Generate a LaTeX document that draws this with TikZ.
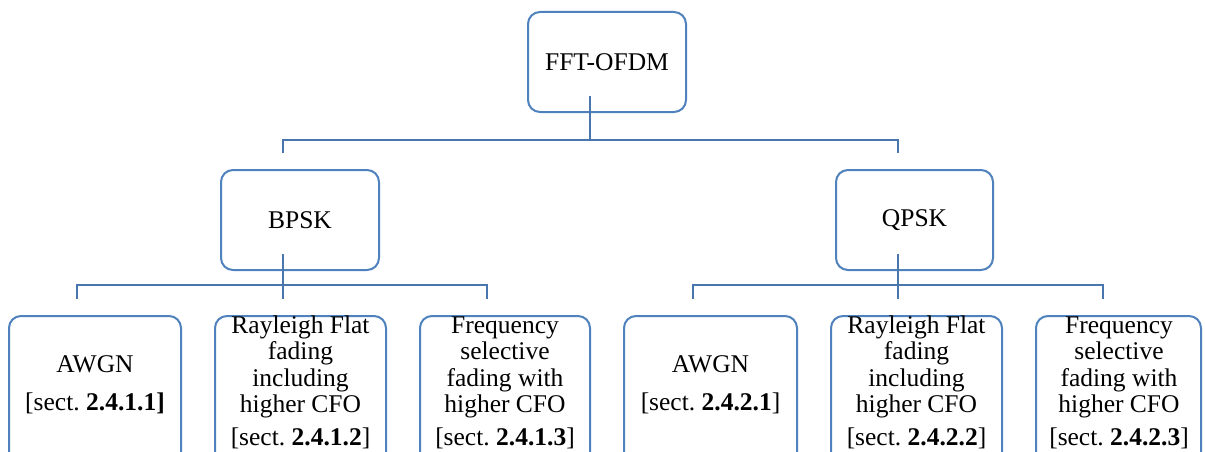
\documentclass[tikz,border=0pt]{standalone}
\usepackage{fontspec}
\setmainfont{Liberation Serif}
\frenchspacing
\definecolor{boxblue}{HTML}{4F81BD}
\definecolor{linkblue}{HTML}{4A76AE}
\begin{document}
\begin{tikzpicture}[x=1pt,y=-1pt,
  box/.style={draw=boxblue, line width=2pt, rounded corners=12pt, inner sep=0pt,
              font=\fontsize{25.5}{27}\selectfont},
  leafbox/.style={box, minimum height=164pt},
  conn/.style={draw=linkblue, line width=2.2pt},
  txt/.style={anchor=base, inner sep=0pt, font=\fontsize{25.5}{27}\selectfont}]
\useasboundingbox (0,0) rectangle (1205,452);
\clip (0,0) rectangle (1205,452);

% top-level boxes
\node[box, minimum width=158pt, minimum height=100pt] (fft) at (607,62) {FFT-OFDM};
\node[box, minimum width=158pt, minimum height=100pt] (bpsk) at (300,220) {BPSK};
\node[box, minimum width=157pt, minimum height=100pt] (qpsk) at (914.5,220) {QPSK};

% leaf boxes
\node[leafbox, minimum width=172pt] (b1) at (95,398) {};
\node[leafbox, minimum width=171pt] (b2) at (300.5,398) {};
\node[leafbox, minimum width=170pt] (b3) at (505,398) {};
\node[leafbox, minimum width=173pt] (b4) at (710.5,398) {};
\node[leafbox, minimum width=171pt] (b5) at (916.5,398) {};
\node[leafbox, minimum width=165pt] (b6) at (1118.5,398) {};

% leaf texts
\node[txt] (t1a) at (95,372) {AWGN};
\node[txt] (t1b) at (95,410) {[sect. \textbf{2.4.1.1]}};

\node[txt] (t2a) at (300.5,333) {Rayleigh Flat};
\node[txt] (t2b) at (300.5,359) {fading};
\node[txt] (t2c) at (300.5,386) {including};
\node[txt] (t2d) at (300.5,412) {higher CFO};
\node[txt] (t2e) at (300.5,445) {[sect. \textbf{2.4.1.2}]};

\node[txt] (t3a) at (505,333) {Frequency};
\node[txt] (t3b) at (505,359) {selective};
\node[txt] (t3c) at (505,386) {fading with};
\node[txt] (t3d) at (505,412) {higher CFO};
\node[txt] (t3e) at (505,445) {[sect. \textbf{2.4.1.3}]};

\node[txt] (t4a) at (710.5,372) {AWGN};
\node[txt] (t4b) at (710.5,410) {[sect. \textbf{2.4.2.1}]};

\node[txt] (t5a) at (916.5,333) {Rayleigh Flat};
\node[txt] (t5b) at (916.5,359) {fading};
\node[txt] (t5c) at (916.5,386) {including};
\node[txt] (t5d) at (916.5,412) {higher CFO};
\node[txt] (t5e) at (916.5,445) {[sect. \textbf{2.4.2.2}]};

\node[txt] (t6a) at (1119,333) {Frequency};
\node[txt] (t6b) at (1119,359) {selective};
\node[txt] (t6c) at (1119,386) {fading with};
\node[txt] (t6d) at (1119,412) {higher CFO};
\node[txt] (t6e) at (1119,445) {[sect. \textbf{2.4.2.3}]};

% connector coordinates
\coordinate (fftout) at (590,96);
\coordinate (j0) at (590,140);
\coordinate (bin) at (283,153);
\coordinate (qin) at (898,153);

\coordinate (bout) at (283,254);
\coordinate (bj) at (283,285);
\coordinate (b1in) at (77,299);
\coordinate (b2in) at (283,299);
\coordinate (b3in) at (487,299);

\coordinate (qout) at (898,254);
\coordinate (qj) at (898,285);
\coordinate (b4in) at (693,299);
\coordinate (b5in) at (898,299);
\coordinate (b6in) at (1103,299);

% connectors
\draw[conn] (fftout) -- (j0);
\draw[conn] (bin) |- (j0) -| (qin);

\draw[conn] (bout) -- (b2in);
\draw[conn] (b1in) |- (bj) -| (b3in);

\draw[conn] (qout) -- (b5in);
\draw[conn] (b4in) |- (qj) -| (b6in);
\end{tikzpicture}
\end{document}
